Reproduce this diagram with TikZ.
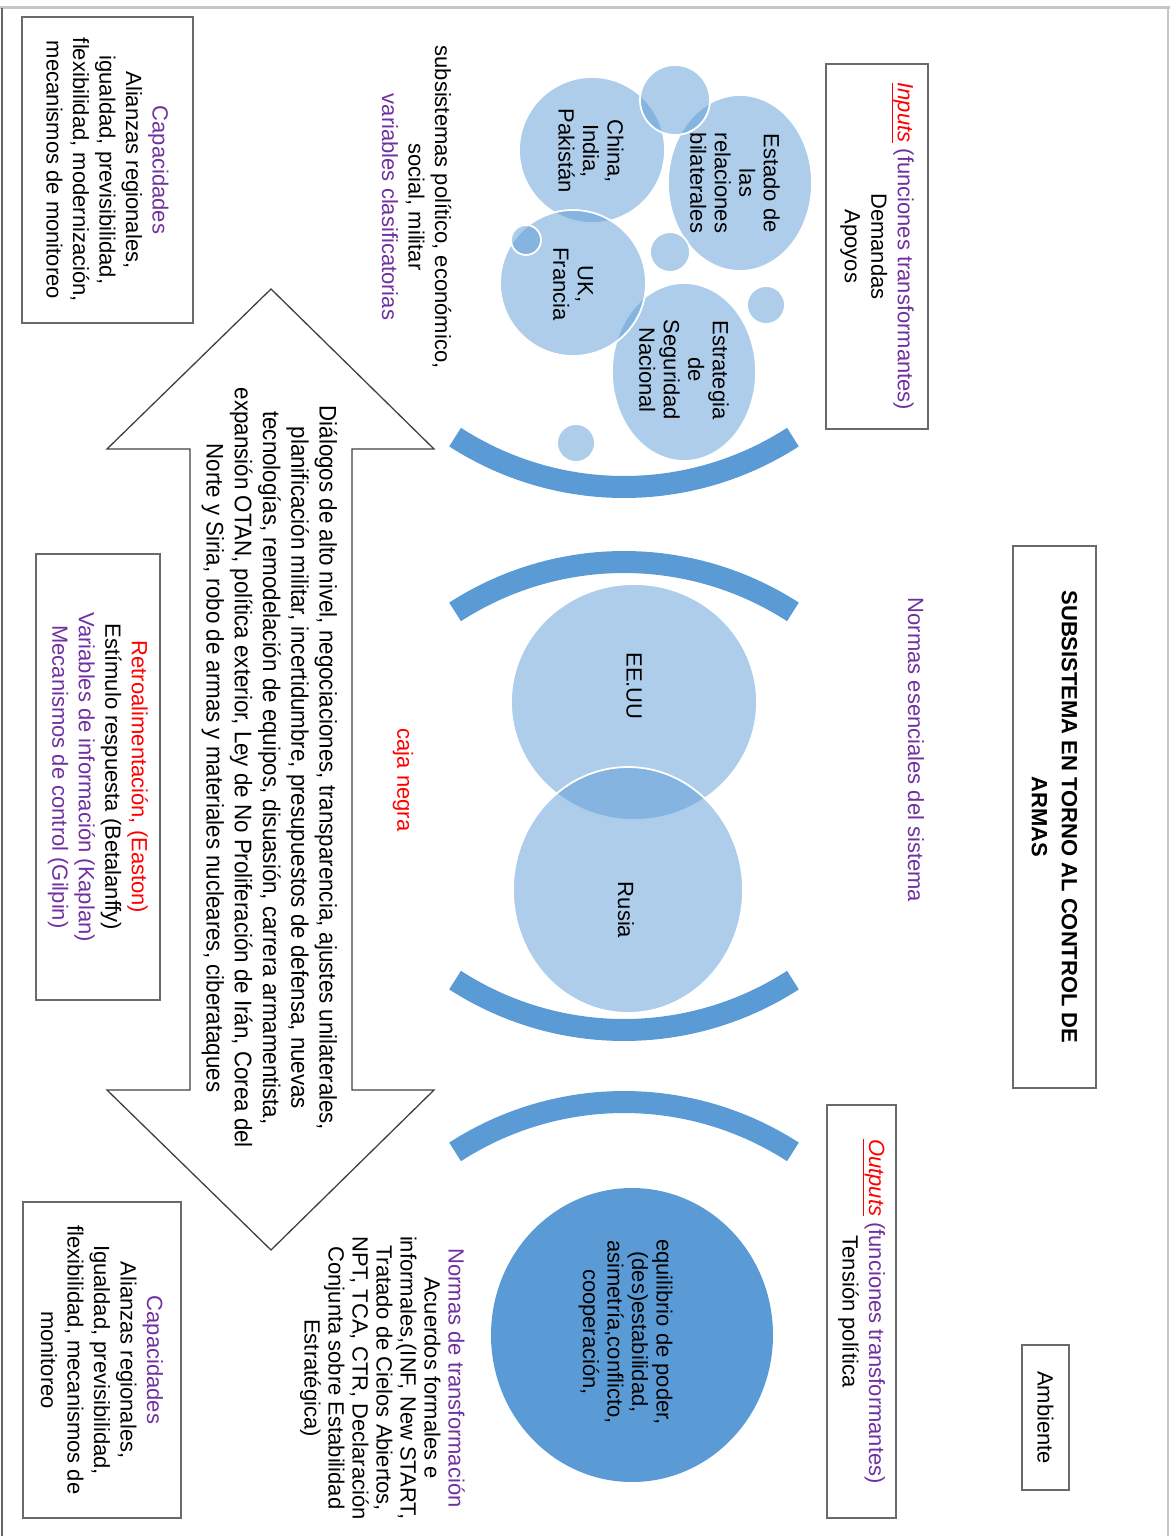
\documentclass[tikz,border=0pt]{standalone}
\usepackage{fontspec}
\setmainfont{Liberation Sans}
\newfontfamily\narrowfont[FakeStretch=0.93]{Liberation Sans}
\definecolor{arcblue}{HTML}{5B9BD5}
\definecolor{purp}{HTML}{7030A0}
\definecolor{redx}{HTML}{FF0000}
\definecolor{boxgray}{HTML}{6A6A6A}
\tikzset{
  vtext/.style={rotate=-90, align=center, inner sep=0pt, font=\fontsize{22}{26.5}\selectfont},
  framebox/.style={vtext, draw=boxgray, line width=1.5pt},
  bubble/.style={fill=arcblue, fill opacity=0.5, draw=white, draw opacity=1, line width=1.8pt},
  bubtext/.style={vtext, font=\fontsize{22}{24.5}\selectfont},
  bigarc/.style={draw=arcblue, line width=22pt, line cap=butt},
  pageline/.style={line width=1.5pt}
}
\begin{document}
\begin{tikzpicture}[x=1pt,y=-1pt]
\useasboundingbox (0,0) rectangle (1170,1536);
% page frame
\draw[gray!45, line width=3pt] (0,8) -- (1170,8);
\draw[pageline, black!60] (2,8) -- (2,1536);
\draw[pageline, gray!45] (1168,8) -- (1168,1536);

% double arrow
\draw[black!75, line width=1.3pt, line join=miter]
  (271,289) -- (434,449) -- (352,449) -- (352,1090) -- (434,1090) -- (271,1250)
  -- (107,1090) -- (190,1090) -- (190,449) -- (107,449) -- cycle;

% arcs
\draw[bigarc] plot[domain=57.1:122.9, samples=60] ({624+311*cos(\x)},{176+311*sin(\x)});
\draw[bigarc] plot[domain=237.1:302.9, samples=60] ({624+311*cos(\x)},{873+311*sin(\x)});
\draw[bigarc] plot[domain=57.1:122.9, samples=60] ({624+311*cos(\x)},{719+311*sin(\x)});
\draw[bigarc] plot[domain=237.1:302.9, samples=60] ({624+311*cos(\x)},{1413+311*sin(\x)});

% bubbles
\path[bubble] (740,183) ellipse [x radius=72pt, y radius=88pt];
\path[bubble] (592,150) ellipse [x radius=73pt, y radius=73pt];
\path[bubble] (684,372) ellipse [x radius=72pt, y radius=89pt];
\path[bubble] (573,283) ellipse [x radius=73pt, y radius=73pt];
\path[bubble] (526,240) circle [radius=15pt];
\path[bubble] (670,252) circle [radius=20pt];
\path[bubble] (766,305) circle [radius=19pt];
\path[bubble] (576,443) circle [radius=19pt];
\path[bubble] (675,100) circle [radius=35pt];
\path[bubble] (634,702) ellipse [x radius=123pt, y radius=118pt];
\path[bubble] (628,890) ellipse [x radius=115pt, y radius=123pt];
\fill[arcblue] (632,1335) ellipse [x radius=141pt, y radius=147pt];

% bubble texts
\node[bubtext] (estado) at (735,183) {Estado de\\las\\relaciones\\bilaterales};
\node[bubtext] (china) at (591,151) {China,\\India,\\Pakistán};
\node[bubtext] (uk) at (573,284) {UK,\\Francia};
\node[bubtext] (estrategia) at (684,370) {Estrategia\\de\\Seguridad\\Nacional};
\node[vtext] (eeuu) at (634,686) {EE.UU};
\node[vtext] (rusia) at (626,910) {Rusia};
\node[bubtext] (equilibrio) at (625.5,1332) {equilibrio de poder,\\(des)estabilidad,\\asimetría,conflicto,\\cooperación,};

% boxes
\node[framebox, minimum width=306pt, minimum height=171pt] (capstop) at (107.5,170)
  {\textcolor{purp}{Capacidades}\\Alianzas regionales,\\igualdad, previsibilidad,\\flexibilidad, modernización,\\mecanismos de monitoreo};
\node[framebox, minimum width=316pt, minimum height=158pt] (capsbot) at (102,1360)
  {\textcolor{purp}{Capacidades}\\Alianzas regionales,\\Igualdad, previsibilidad,\\flexibilidad, mecanismos de\\monitoreo};
\node[framebox, minimum width=446pt, minimum height=124pt] (retro) at (98,777)
  {\textcolor{redx}{Retroalimentación, (Easton)}\\Estímulo respuesta (Betalanffy)\\\textcolor{purp}{Variables de información (Kaplan)}\\\textcolor{purp}{Mecanismos de control (Gilpin)}};
\node[framebox, minimum width=542pt, minimum height=83pt, font=\fontsize{22}{30}\selectfont\bfseries] (title) at (1054.5,817)
  {SUBSISTEMA EN TORNO AL CONTROL DE\\ARMAS};
\node[framebox, minimum width=145pt, minimum height=47pt] (ambiente) at (1045.5,1417.5) {Ambiente};
\node[framebox, minimum width=365pt, minimum height=102pt] (inputs) at (877,246.5)
  {\textcolor{redx}{\underline{\textit{Inputs}}}\ \textcolor{purp}{(funciones transformantes)}\\Demandas\\Apoyos};
\node[framebox, minimum width=413pt, minimum height=69pt] (outputs) at (861.5,1311.5)
  {\textcolor{redx}{\underline{\textit{Outputs}}}\ \textcolor{purp}{(funciones transformantes)}\\Tensión política};

% free texts
\node[vtext, text=purp] (normas) at (916,750) {Normas esenciales del sistema};
\node[vtext] (subsis) at (416.5,207)
  {subsistemas político, económico,\\social, militar\\\textcolor{purp}{variables clasificatorias}};
\node[vtext, text=redx] (caja) at (403,780) {caja negra};
\node[vtext, font=\narrowfont\fontsize{24}{28.25}\selectfont] (dialogos) at (269.5,768)
  {Diálogos de alto nivel, negociaciones, transparencia, ajustes unilaterales,\\
   planificación militar, incertidumbre, presupuestos de defensa, nuevas\\
   tecnologías, remodelación de equipos, disuasión, carrera armamentista,\\
   expansión OTAN, política exterior, Ley de No Proliferación de Irán, Corea del\\
   Norte y Siria, robo de armas y materiales nucleares, ciberataques};
\node[vtext, font=\fontsize{22}{24}\selectfont] (normastrans) at (382.5,1378)
  {\textcolor{purp}{Normas de transformación}\\Acuerdos formales e\\informales,(INF, New START,\\Tratado de Cielos Abiertos,\\NPT, TCA, CTR, Declaración\\Conjunta sobre Estabilidad\\Estratégica)};
\end{tikzpicture}
\end{document}
